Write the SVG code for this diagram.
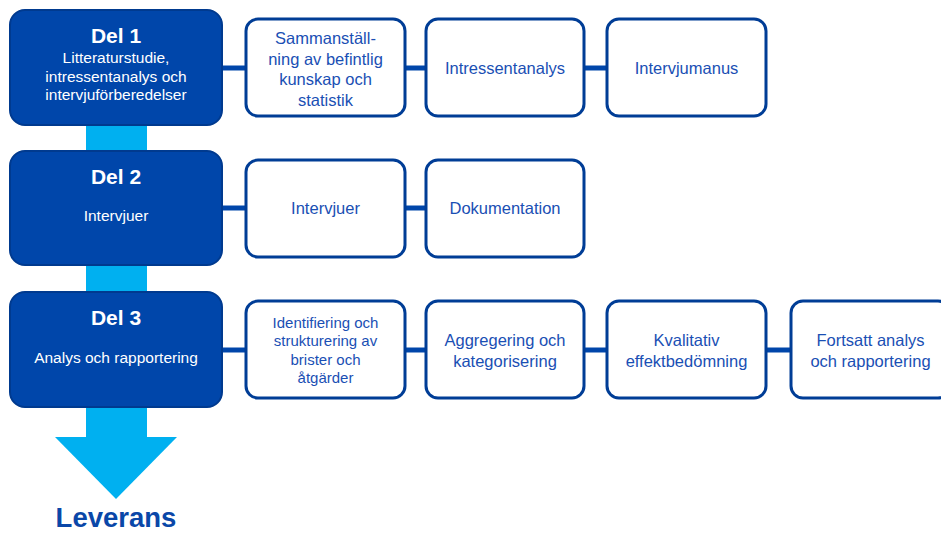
<svg xmlns="http://www.w3.org/2000/svg" width="941" height="533" viewBox="0 0 941 533">
  <style>
    .phase { fill: #0046AA; stroke: #003a8f; stroke-width: 2; }
    .step { fill: #ffffff; stroke: #003d96; stroke-width: 3; }
    .link { stroke: #0046AA; stroke-width: 5; fill: none; }
    .title { font-family: "Liberation Sans", Arial, sans-serif; font-weight: bold; font-size: 21px; fill: #ffffff; text-anchor: middle; }
    .sub { font-family: "Liberation Sans", Arial, sans-serif; font-size: 15.5px; fill: #ffffff; text-anchor: middle; }
    .lbl { font-family: "Liberation Sans", Arial, sans-serif; font-size: 16.5px; fill: #1a4fb4; text-anchor: middle; }
    .lbl-s { font-family: "Liberation Sans", Arial, sans-serif; font-size: 15px; fill: #1a4fb4; text-anchor: middle; }
    .flow { fill: #00b0f0; }
  </style>

  <!-- vertical flow band with the delivery arrow -->
  <g id="flow-arrow">
    <rect class="flow" x="86" y="110" width="61" height="328"/>
    <polygon class="flow" points="55,437 177,437 116,499"/>
  </g>

  <!-- connectors -->
  <g id="connectors">
    <line class="link" x1="222" y1="68" x2="246" y2="68"/>
    <line class="link" x1="405" y1="68" x2="426" y2="68"/>
    <line class="link" x1="584" y1="68" x2="607" y2="68"/>
    <line class="link" x1="222" y1="208" x2="246" y2="208"/>
    <line class="link" x1="405" y1="208" x2="426" y2="208"/>
    <line class="link" x1="222" y1="350" x2="246" y2="350"/>
    <line class="link" x1="405" y1="350" x2="426" y2="350"/>
    <line class="link" x1="584" y1="350" x2="607" y2="350"/>
    <line class="link" x1="766" y1="350" x2="791" y2="350"/>
  </g>

  <!-- phase 1 -->
  <g id="del1">
    <rect class="phase" x="10" y="10" width="212" height="115" rx="15"/>
    <text class="title" x="116" y="43">Del 1</text>
    <text class="sub" x="116" y="63">Litteraturstudie,</text>
    <text class="sub" x="116" y="82">intressentanalys och</text>
    <text class="sub" x="116" y="100">intervjuförberedelser</text>
  </g>
  <g id="sammanstallning">
    <rect class="step" x="246" y="19" width="159" height="97" rx="12"/>
    <text class="lbl" x="325.5" y="44">Sammanställ-</text>
    <text class="lbl" x="325.5" y="64.5">ning av befintlig</text>
    <text class="lbl" x="325.5" y="85">kunskap och</text>
    <text class="lbl" x="325.5" y="105.5">statistik</text>
  </g>
  <g id="intressentanalys">
    <rect class="step" x="426" y="19" width="158" height="97" rx="12"/>
    <text class="lbl" x="505" y="74">Intressentanalys</text>
  </g>
  <g id="intervjumanus">
    <rect class="step" x="607" y="19" width="159" height="97" rx="12"/>
    <text class="lbl" x="686.5" y="74">Intervjumanus</text>
  </g>

  <!-- phase 2 -->
  <g id="del2">
    <rect class="phase" x="10" y="151" width="212" height="114" rx="15"/>
    <text class="title" x="116" y="184">Del 2</text>
    <text class="sub" x="116" y="221">Intervjuer</text>
  </g>
  <g id="intervjuer">
    <rect class="step" x="246" y="160" width="159" height="97" rx="12"/>
    <text class="lbl" x="325.5" y="214">Intervjuer</text>
  </g>
  <g id="dokumentation">
    <rect class="step" x="426" y="160" width="158" height="97" rx="12"/>
    <text class="lbl" x="505" y="214">Dokumentation</text>
  </g>

  <!-- phase 3 -->
  <g id="del3">
    <rect class="phase" x="10" y="292" width="212" height="115" rx="15"/>
    <text class="title" x="116" y="325">Del 3</text>
    <text class="sub" x="116" y="363">Analys och rapportering</text>
  </g>
  <g id="identifiering">
    <rect class="step" x="246" y="301" width="159" height="97" rx="12"/>
    <text class="lbl-s" x="325.5" y="328">Identifiering och</text>
    <text class="lbl-s" x="325.5" y="346">strukturering av</text>
    <text class="lbl-s" x="325.5" y="365">brister och</text>
    <text class="lbl-s" x="325.5" y="383">åtgärder</text>
  </g>
  <g id="aggregering">
    <rect class="step" x="426" y="301" width="158" height="97" rx="12"/>
    <text class="lbl" x="505" y="346">Aggregering och</text>
    <text class="lbl" x="505" y="367">kategorisering</text>
  </g>
  <g id="kvalitativ">
    <rect class="step" x="607" y="301" width="159" height="97" rx="12"/>
    <text class="lbl" x="686.5" y="346">Kvalitativ</text>
    <text class="lbl" x="686.5" y="367">effektbedömning</text>
  </g>
  <g id="fortsatt">
    <rect class="step" x="791" y="301" width="159" height="97" rx="12"/>
    <text class="lbl" x="870.5" y="346">Fortsatt analys</text>
    <text class="lbl" x="870.5" y="367">och rapportering</text>
  </g>

  <!-- delivery label -->
  <g id="leverans">
    <text x="116" y="527" font-family="Liberation Sans, Arial, sans-serif" font-weight="bold" font-size="27.5" fill="#0a47a8" text-anchor="middle">Leverans</text>
  </g>
</svg>
